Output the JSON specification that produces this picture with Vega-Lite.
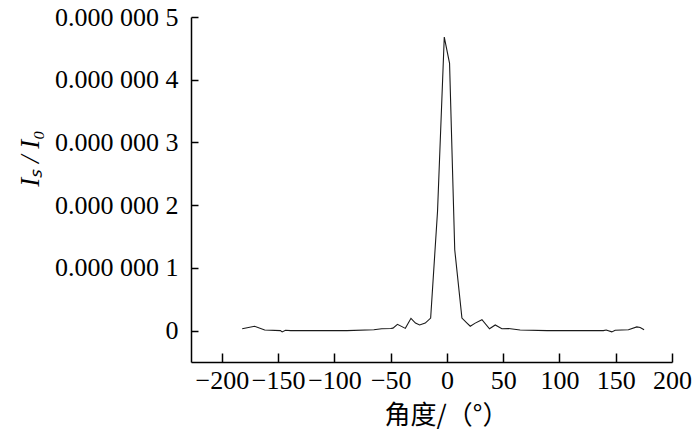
{
  "$schema": "https://vega.github.io/schema/vega-lite/v6.json",
  "description": "Scattered intensity ratio vs angle",
  "autosize": "none",
  "width": 481,
  "height": 345,
  "padding": {"left": 191, "top": 17, "right": 28, "bottom": 70},
  "background": "white",
  "config": {
    "view": {"stroke": null},
    "axis": {
      "domainColor": "black",
      "domainWidth": 1.5,
      "tickColor": "black",
      "tickWidth": 1.5,
      "grid": false,
      "labelFont": "Liberation Serif",
      "labelFontSize": 26,
      "labelColor": "black",
      "labelOverlap": false,
      "labelBound": false,
      "labelFlush": false,
      "titleColor": "black",
      "titleFontWeight": "normal"
    }
  },
  "data": {
    "values": [
      {"angle": -182, "ratio": 0.3e-8},
      {"angle": -171, "ratio": 0.7e-8},
      {"angle": -162, "ratio": 0.1e-8},
      {"angle": -148, "ratio": 0.0},
      {"angle": -146.5, "ratio": -0.2e-8},
      {"angle": -143.5, "ratio": 0.05e-8},
      {"angle": -139, "ratio": 0.0},
      {"angle": -89, "ratio": 0.0},
      {"angle": -65, "ratio": 0.15e-8},
      {"angle": -58, "ratio": 0.3e-8},
      {"angle": -50, "ratio": 0.35e-8},
      {"angle": -48, "ratio": 0.4e-8},
      {"angle": -44, "ratio": 1.0e-8},
      {"angle": -37, "ratio": 0.36e-8},
      {"angle": -32, "ratio": 1.96e-8},
      {"angle": -28, "ratio": 1.2e-8},
      {"angle": -24.3, "ratio": 0.9e-8},
      {"angle": -19.3, "ratio": 1.2e-8},
      {"angle": -14.5, "ratio": 2.0e-8},
      {"angle": -8.4, "ratio": 1.9e-7},
      {"angle": -2.4, "ratio": 4.68e-7},
      {"angle": 2.3, "ratio": 4.26e-7},
      {"angle": 6.9, "ratio": 1.29e-7},
      {"angle": 13.3, "ratio": 2.0e-8},
      {"angle": 17.8, "ratio": 1.2e-8},
      {"angle": 20.7, "ratio": 0.7e-8},
      {"angle": 25.1, "ratio": 1.2e-8},
      {"angle": 31.1, "ratio": 1.75e-8},
      {"angle": 37.8, "ratio": 0.3e-8},
      {"angle": 42.9, "ratio": 0.9e-8},
      {"angle": 48.8, "ratio": 0.3e-8},
      {"angle": 54.7, "ratio": 0.35e-8},
      {"angle": 65, "ratio": 0.1e-8},
      {"angle": 89, "ratio": 0.0},
      {"angle": 139, "ratio": 0.0},
      {"angle": 141.5, "ratio": 0.1e-8},
      {"angle": 146.5, "ratio": -0.2e-8},
      {"angle": 149.5, "ratio": 0.05e-8},
      {"angle": 161.3, "ratio": 0.15e-8},
      {"angle": 168.7, "ratio": 0.6e-8},
      {"angle": 171.7, "ratio": 0.5e-8},
      {"angle": 175.2, "ratio": 0.15e-8}
    ]
  },
  "mark": {"type": "line", "color": "#1a1a1a", "strokeWidth": 1.1},
  "encoding": {
    "x": {
      "field": "angle",
      "type": "quantitative",
      "scale": {"domain": [-227.5, 200], "nice": false, "zero": false},
      "axis": {
        "values": [-200, -150, -100, -50, 0, 50, 100, 150, 200],
        "tickSize": -9,
        "labelPadding": 14,
        "title": "角度/（°）",
        "titleFont": "Noto Sans CJK SC",
        "titleFontSize": 26,
        "titleX": 255,
        "titlePadding": 9
      }
    },
    "y": {
      "field": "ratio",
      "type": "quantitative",
      "scale": {"domain": [-5e-8, 5e-7], "nice": false, "zero": false},
      "axis": {
        "values": [0, 1e-7, 2e-7, 3e-7, 4e-7, 5e-7],
        "labelExpr": "datum.value == 0 ? '0' : '0.000 000 ' + round(datum.value * 1e7)",
        "tickSize": -7,
        "labelPadding": 20,
        "title": "Iₛ / I₀",
        "titleFont": "Liberation Serif",
        "titleFontStyle": "italic",
        "titleFontSize": 27,
        "titleY": 141,
        "titlePadding": 10
      }
    }
  }
}
